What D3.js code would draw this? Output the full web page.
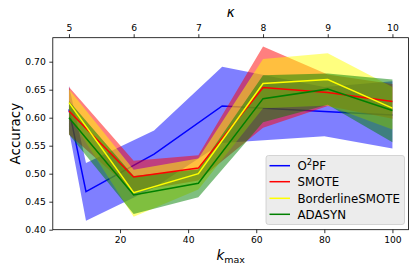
<!DOCTYPE html>
<html>
<head>
<meta charset="utf-8">
<script src="https://cdn.jsdelivr.net/npm/d3@7"></script>
<style>
  body { margin: 0; background: #fff; }
  text { font-family: "DejaVu Sans", sans-serif; fill: #000; }
</style>
</head>
<body>
<div id="chart-area"></div>
<script>
// data
var kmax = [5, 24, 43, 62, 81, 100];
var kappaTicks = [5, 6, 7, 8, 9, 10];
var kmaxTicks = [20, 40, 60, 80, 100];
var accTicks = [0.40, 0.45, 0.50, 0.55, 0.60, 0.65, 0.70];

var o2pfK = [5, 10, 30, 50, 80, 100];
var o2pfMean = [0.615, 0.468, 0.535, 0.621, 0.611, 0.605];
var o2pfUp = [0.657, 0.519, 0.577, 0.691, 0.655, 0.665];
var o2pfLo = [0.577, 0.416, 0.475, 0.555, 0.567, 0.545];

var smoteMean = [0.612, 0.494, 0.510, 0.654, 0.645, 0.629];
var smoteUp = [0.655, 0.523, 0.533, 0.727, 0.677, 0.660];
var smoteLo = [0.570, 0.468, 0.488, 0.582, 0.621, 0.598];

var bsMean = [0.627, 0.466, 0.500, 0.661, 0.668, 0.617];
var bsUp = [0.651, 0.507, 0.527, 0.705, 0.715, 0.655];
var bsLo = [0.603, 0.423, 0.472, 0.617, 0.622, 0.579];

var adMean = [0.600, 0.462, 0.483, 0.634, 0.651, 0.613];
var adUp = [0.630, 0.496, 0.508, 0.676, 0.679, 0.668];
var adLo = [0.570, 0.428, 0.458, 0.592, 0.623, 0.556];

var series = [
  { name: "O2PF", color: "#0000ff", xs: o2pfK, mean: o2pfMean, up: o2pfUp, lo: o2pfLo },
  { name: "SMOTE", color: "#ff0000", xs: kmax, mean: smoteMean, up: smoteUp, lo: smoteLo },
  { name: "BorderlineSMOTE", color: "#ffff00", xs: kmax, mean: bsMean, up: bsUp, lo: bsLo },
  { name: "ADASYN", color: "#008000", xs: kmax, mean: adMean, up: adUp, lo: adLo }
];

//margins
var W = 416, H = 271;
var pLeft = 52.8, pRight = 408.6, pTop = 37.7, pBottom = 229.7;

var svg = d3.select("#chart-area").append("svg")
  .attr("width", W)
  .attr("height", H);

var x = d3.scaleLinear().domain([0.25, 104.75]).range([pLeft, pRight]);
var xTop = d3.scaleLinear().domain([4.75, 10.25]).range([pLeft, pRight]);
var y = d3.scaleLinear().domain([0.40, 0.40 + (pBottom - pTop) / 560]).range([pBottom, pTop]);

var plot = svg.append("g");

function rows(s) {
  return s.xs.map((k, i) => ({ k: k, m: s.mean[i], u: s.up[i], l: s.lo[i] }));
}

var area = d3.area().x(d => x(d.k)).y0(d => y(d.l)).y1(d => y(d.u));
var line = d3.line().x(d => x(d.k)).y(d => y(d.m));

// O2PF sits underneath (drawn first with its line)
var first = series[0];
plot.append("path").attr("d", area(rows(first)))
  .attr("fill", first.color).attr("fill-opacity", 0.5);
plot.append("path").attr("d", line(rows(first)))
  .attr("fill", "none").attr("stroke", first.color).attr("stroke-width", 1.5);

// the others: bands then lines
series.slice(1).forEach(s => {
  plot.append("path").attr("d", area(rows(s)))
    .attr("fill", s.color).attr("fill-opacity", 0.5);
});
series.slice(1).forEach(s => {
  plot.append("path").attr("d", line(rows(s)))
    .attr("fill", "none").attr("stroke", s.color).attr("stroke-width", 1.5);
});

// axes
var fs = "9.2px";
var yAxis = svg.append("g").attr("transform", "translate(" + pLeft + ",0)")
  .call(d3.axisLeft(y).tickValues(accTicks).tickFormat(d3.format(".2f")).tickSize(3.5).tickPadding(3.5));
var xAxis = svg.append("g").attr("transform", "translate(0," + pBottom + ")")
  .call(d3.axisBottom(x).tickValues(kmaxTicks).tickFormat(d3.format("d")).tickSize(3.5).tickPadding(3.5));
var xTopAxis = svg.append("g").attr("transform", "translate(0," + pTop + ")")
  .call(d3.axisTop(xTop).tickValues(kappaTicks).tickFormat(d3.format("d")).tickSize(3.5).tickPadding(3.5));

[yAxis, xAxis, xTopAxis].forEach(a => {
  a.select(".domain").remove();
  a.selectAll("text").style("font-size", fs).attr("font-family", "DejaVu Sans").attr("fill", "#000");
  a.selectAll("line").attr("stroke", "#000").attr("stroke-width", 0.8);
});

// frame
svg.append("rect")
  .attr("x", pLeft).attr("y", pTop)
  .attr("width", pRight - pLeft).attr("height", pBottom - pTop)
  .attr("fill", "none").attr("stroke", "#000").attr("stroke-width", 0.8);

// labels
svg.append("text")
  .attr("transform", "translate(20," + ((pTop + pBottom) / 2) + ") rotate(-90)")
  .attr("text-anchor", "middle")
  .style("font-size", "13.5px")
  .text("Accuracy");

var xl = svg.append("text")
  .attr("x", (pLeft + pRight) / 2).attr("y", 260)
  .attr("text-anchor", "middle")
  .style("font-size", "13.5px");
xl.append("tspan").attr("font-style", "italic").text("k");
xl.append("tspan").attr("dy", 2.5).style("font-size", "9.5px").text("max");

svg.append("text")
  .attr("x", (pLeft + pRight) / 2).attr("y", 17)
  .attr("text-anchor", "middle")
  .attr("font-style", "italic")
  .style("font-size", "13.5px")
  .text("κ");

// legend
var lg = svg.append("g");
lg.append("rect")
  .attr("x", 266).attr("y", 155.5).attr("width", 138.5).attr("height", 69).attr("rx", 2.5)
  .attr("fill", "#ebebeb").attr("fill-opacity", 0.95).attr("stroke", "#cccccc").attr("stroke-width", 0.8);
var rowY = [165.7, 181.7, 198.3, 214.3];
series.forEach((s, i) => {
  lg.append("line")
    .attr("x1", 269.5).attr("x2", 290).attr("y1", rowY[i]).attr("y2", rowY[i])
    .attr("stroke", s.color).attr("stroke-width", 1.5);
  var t = lg.append("text").attr("x", 297.5).attr("y", rowY[i] + 4.2).style("font-size", "11.8px");
  if (i === 0) {
    t.append("tspan").text("O");
    t.append("tspan").attr("dy", -4.5).style("font-size", "8.3px").text("2");
    t.append("tspan").attr("dy", 4.5).text("PF");
  } else {
    t.text(s.name);
  }
});
</script>
</body>
</html>
